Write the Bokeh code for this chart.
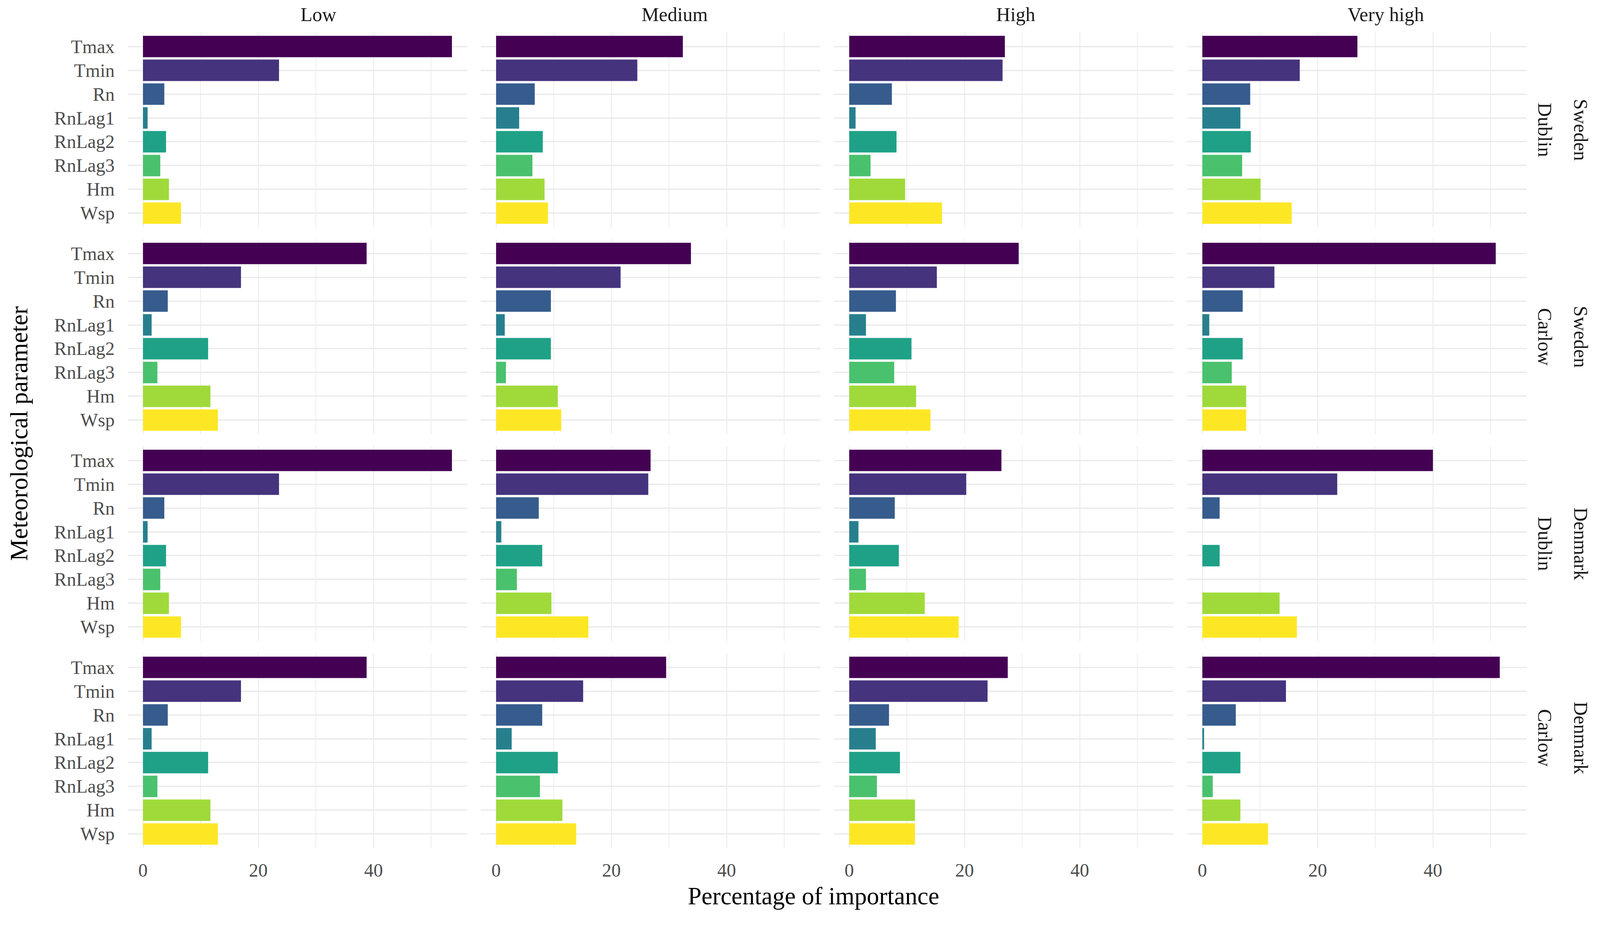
import numpy as np
from bokeh.plotting import figure
from bokeh.models import Range1d, FixedTicker, GridBox, ColumnDataSource
from bokeh.embed import file_html
from bokeh.resources import INLINE
from bokeh.core.properties import value

# ---------------- data ----------------
params = ["Tmax", "Tmin", "Rn", "RnLag1", "RnLag2", "RnLag3", "Hm", "Wsp"]
levels = ["Low", "Medium", "High", "Very high"]
row_countries = ["Sweden", "Sweden", "Denmark", "Denmark"]
row_sites = ["Dublin", "Carlow", "Dublin", "Carlow"]
param_colors = ["#440154", "#46337E", "#365C8D", "#277F8E",
                "#1FA187", "#4AC16D", "#9FDA3A", "#FDE725"]
x_major_ticks = [0, 20, 40]
x_minor_ticks = [10, 30, 50]

sweden_dublin_low = [53.6, 23.6, 3.7, 0.8, 4.0, 3.0, 4.5, 6.6]
sweden_dublin_medium = [32.4, 24.5, 6.7, 4.0, 8.1, 6.3, 8.4, 9.0]
sweden_dublin_high = [27.0, 26.6, 7.4, 1.1, 8.2, 3.7, 9.7, 16.1]
sweden_dublin_very_high = [26.9, 16.9, 8.3, 6.6, 8.4, 6.9, 10.1, 15.5]

sweden_carlow_low = [38.8, 17.0, 4.3, 1.5, 11.3, 2.5, 11.7, 13.0]
sweden_carlow_medium = [33.8, 21.6, 9.5, 1.5, 9.5, 1.7, 10.7, 11.3]
sweden_carlow_high = [29.4, 15.2, 8.1, 2.9, 10.8, 7.8, 11.6, 14.1]
sweden_carlow_very_high = [50.9, 12.5, 7.0, 1.2, 7.0, 5.1, 7.6, 7.6]

denmark_dublin_low = [53.6, 23.6, 3.7, 0.8, 4.0, 3.0, 4.5, 6.6]
denmark_dublin_medium = [26.8, 26.4, 7.4, 0.9, 8.0, 3.6, 9.6, 16.0]
denmark_dublin_high = [26.4, 20.3, 7.9, 1.6, 8.6, 2.9, 13.1, 19.0]
denmark_dublin_very_high = [40.0, 23.4, 3.0, 0.0, 3.0, 0.0, 13.4, 16.4]

denmark_carlow_low = [38.8, 17.0, 4.3, 1.5, 11.3, 2.5, 11.7, 13.0]
denmark_carlow_medium = [29.5, 15.1, 8.0, 2.7, 10.7, 7.6, 11.5, 13.9]
denmark_carlow_high = [27.5, 24.0, 6.9, 4.6, 8.8, 4.8, 11.4, 11.4]
denmark_carlow_very_high = [51.6, 14.5, 5.8, 0.3, 6.6, 1.8, 6.6, 11.4]

panel_values = [
    [sweden_dublin_low, sweden_dublin_medium, sweden_dublin_high, sweden_dublin_very_high],
    [sweden_carlow_low, sweden_carlow_medium, sweden_carlow_high, sweden_carlow_very_high],
    [denmark_dublin_low, denmark_dublin_medium, denmark_dublin_high, denmark_dublin_very_high],
    [denmark_carlow_low, denmark_carlow_medium, denmark_carlow_high, denmark_carlow_very_high],
]

# ---------------- layout constants ----------------
FONT_NAME = "Liberation Serif"
FONT = value(FONT_NAME)
W0 = 100           # y-title column width
FW, FH = 870, 500  # panel frame size
LEFT1 = 226        # left border of first column (tick labels)
GAPH = 17          # half horizontal gap
TOP, BOT = 15, 15
BOT_LAST = 95
HEAD_H = 67
XT_H = 70
STRIP_W = 172

all_max = max(max(v) for row in panel_values for v in row)
xmin, xmax = -0.05 * all_max, 1.05 * all_max
n = len(params)
ypos = [n - 1 - i for i in range(n)]


def blank(w, h):
    p = figure(width=w, height=h, x_range=Range1d(0, w), y_range=Range1d(0, h),
               x_axis_type=None, y_axis_type=None, output_backend="svg",
               toolbar_location=None, min_border_left=0, min_border_right=0,
               min_border_top=0, min_border_bottom=0)
    p.outline_line_color = None
    p.background_fill_color = "white"
    p.border_fill_color = "white"
    return p


def col_borders(c):
    left = LEFT1 if c == 0 else GAPH
    right = GAPH if c < 3 else 0
    return left, right


def panel(r, c, vals):
    left, right = col_borders(c)
    bottom = BOT if r < 3 else BOT_LAST
    p = figure(width=left + FW + right, height=TOP + FH + bottom,
               x_range=Range1d(xmin, xmax), y_range=Range1d(-0.6, n - 1 + 0.6),
               output_backend="svg", toolbar_location=None,
               min_border_left=left, min_border_right=right,
               min_border_top=TOP, min_border_bottom=bottom)
    p.outline_line_color = None
    p.background_fill_color = "white"
    p.border_fill_color = "white"
    src = ColumnDataSource(dict(y=ypos, v=vals, color=param_colors, name=params))
    p.hbar(y="y", left=0, right="v", height=0.9, fill_color="color",
           line_color=None, source=src)

    p.xaxis.ticker = FixedTicker(ticks=x_major_ticks, minor_ticks=x_minor_ticks)
    p.xgrid.ticker = FixedTicker(ticks=x_major_ticks, minor_ticks=x_minor_ticks)
    p.xgrid.grid_line_color = "#ECECEC"
    p.xgrid.grid_line_width = 2.5
    p.xgrid.minor_grid_line_color = "#ECECEC"
    p.xgrid.minor_grid_line_width = 2.0

    p.yaxis.ticker = FixedTicker(ticks=ypos)
    p.ygrid.ticker = FixedTicker(ticks=ypos)
    p.ygrid.grid_line_color = "#EBEBEB"
    p.ygrid.grid_line_width = 3.5
    p.yaxis.major_label_overrides = {y: name for y, name in zip(ypos, params)}

    for ax in (p.xaxis[0], p.yaxis[0]):
        ax.axis_line_color = None
        ax.major_tick_line_color = None
        ax.minor_tick_line_color = None
        ax.major_tick_out = 0
        ax.major_tick_in = 0
        ax.major_label_text_font = FONT_NAME
        ax.major_label_text_font_size = "48px"
        ax.major_label_text_color = "#4D4D4D"
    p.xaxis.major_label_standoff = 36
    p.yaxis.major_label_standoff = 33

    if c != 0:
        p.yaxis.visible = False
    if r != 3:
        p.xaxis.visible = False
    return p


children = []
col_widths = [W0] + [sum(col_borders(c)) + FW for c in range(4)] + [STRIP_W]
row_heights = [HEAD_H] + [TOP + FH + (BOT if r < 3 else BOT_LAST) for r in range(4)] + [XT_H]

# column headers
head_x = [625, 516, 484, 519]
for c, lev in enumerate(levels):
    h = blank(col_widths[c + 1], HEAD_H)
    h.text(x=[head_x[c]], y=[HEAD_H - 36], text=[lev], text_align="center",
           text_baseline="middle", text_font=FONT, text_font_size="50px",
           text_color="#1A1A1A")
    children.append((h, 0, c + 1))

# panels and strips
for r in range(4):
    for c in range(4):
        children.append((panel(r, c, panel_values[r][c]), r + 1, c + 1))
    hgt = row_heights[r + 1]
    s = blank(STRIP_W, hgt)
    yc = hgt - (TOP + FH / 2)
    s.text(x=[138], y=[yc], text=[row_countries[r]], angle=-np.pi / 2,
           text_align="center", text_baseline="middle", text_font=FONT,
           text_font_size="50px", text_color="#1A1A1A")
    s.text(x=[46], y=[yc], text=[row_sites[r]], angle=-np.pi / 2,
           text_align="center", text_baseline="middle", text_font=FONT,
           text_font_size="50px", text_color="#1A1A1A")
    children.append((s, r + 1, 5))

# y title
yt_h = sum(row_heights[1:5])
yt = blank(W0, yt_h)
yt.text(x=[48], y=[yt_h - 1082], text=["Meteorological parameter"], angle=np.pi / 2,
        text_align="center", text_baseline="middle", text_font=FONT,
        text_font_size="63px", text_color="black")
children.append((yt, 1, 0, 4, 1))

# x title
total_w = sum(col_widths)
xt = blank(total_w, XT_H)
xt.text(x=[2082], y=[XT_H - 27], text=["Percentage of importance"],
        text_align="center", text_baseline="middle", text_font=FONT,
        text_font_size="63px", text_color="black")
children.append((xt, 5, 0, 1, 6))

grid = GridBox(children=children, spacing=0,
               cols=[f"{w}px" for w in col_widths],
               rows=[f"{h}px" for h in row_heights],
               width=total_w, height=sum(row_heights))

open("out.html", "w").write(file_html(grid, INLINE))
